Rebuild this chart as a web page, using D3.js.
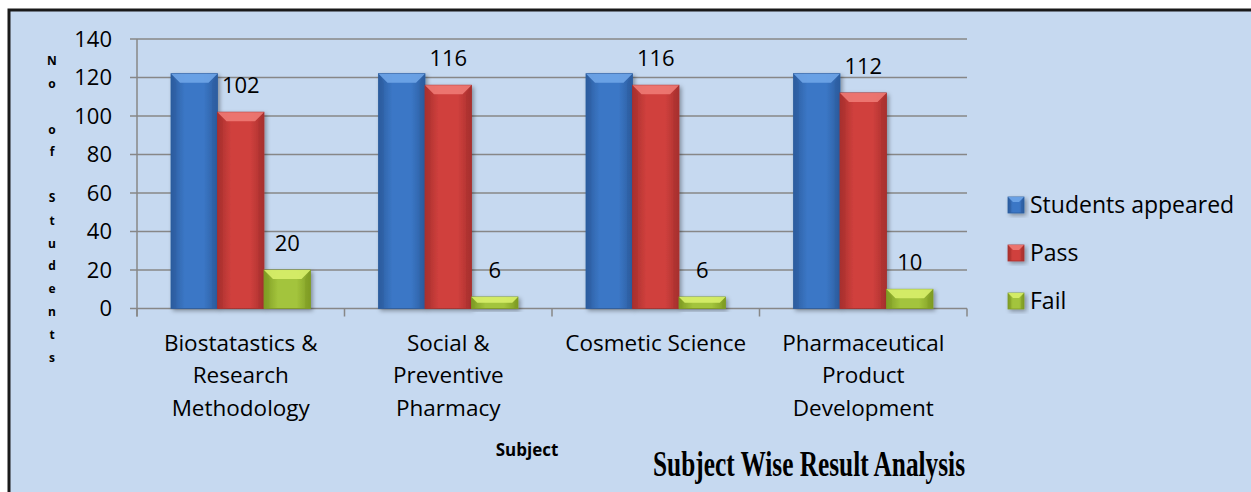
<!DOCTYPE html>
<html>
<head>
<meta charset="utf-8">
<script src="https://cdn.jsdelivr.net/npm/d3@7"></script>
<style>
  body { margin: 0; background: #fff; }
  svg { display: block; }
</style>
</head>
<body>
<div id="chart"></div>
<script>
document.addEventListener("DOMContentLoaded", function() {
    // chart data
    const subjects = [
        ["Biostatastics &", "Research", "Methodology"],
        ["Social &", "Preventive", "Pharmacy"],
        ["Cosmetic Science"],
        ["Pharmaceutical", "Product", "Development"]
    ];
    const seriesNames = ["Students appeared", "Pass", "Fail"];
    const appeared = [122, 122, 122, 122];
    const pass = [102, 116, 116, 112];
    const fail = [20, 6, 6, 10];
    const yTicks = [0, 20, 40, 60, 80, 100, 120, 140];
    const yTitle = ["N", "o", "", "o", "f", "", "S", "t", "u", "d", "e", "n", "t", "s"];

    const width = 1251;
    const height = 492;
    const font = "'Open Sans', sans-serif";

    const colors = {
        "Students appeared": { base: "#3b77c6", dark: "#2c5d9f", light: "#6fa5e8" },
        "Pass": { base: "#d0403d", dark: "#a8302e", light: "#ee7a74" },
        "Fail": { base: "#a3c43c", dark: "#7f9c24", light: "#d8f06a" }
    };

    const svg = d3.select("#chart").append("svg")
        .attr("width", width)
        .attr("height", height);

    const defs = svg.append("defs");
    Object.keys(colors).forEach((k, i) => {
        const c = colors[k];
        const g = defs.append("linearGradient")
            .attr("id", "grad" + i)
            .attr("x1", "0").attr("x2", "1").attr("y1", "0").attr("y2", "0");
        g.append("stop").attr("offset", "0%").attr("stop-color", c.dark);
        g.append("stop").attr("offset", "30%").attr("stop-color", c.base);
        g.append("stop").attr("offset", "70%").attr("stop-color", c.base);
        g.append("stop").attr("offset", "100%").attr("stop-color", c.dark);
    });
    const shadow = defs.append("filter").attr("id", "shadow")
        .attr("x", "-20%").attr("y", "-20%").attr("width", "150%").attr("height", "150%");
    shadow.append("feDropShadow")
        .attr("dx", 2).attr("dy", 2).attr("stdDeviation", 2)
        .attr("flood-color", "#000").attr("flood-opacity", 0.35);

    // background panel with border on top and left
    svg.append("rect")
        .attr("x", 9).attr("y", 10)
        .attr("width", width).attr("height", height)
        .attr("fill", "#c6d9f0")
        .attr("stroke", "#1a1a1a")
        .attr("stroke-width", 3);

    const y = d3.scaleLinear().domain([0, 140]).range([308.5, 39]);
    const x = d3.scaleBand().domain(d3.range(subjects.length)).range([137, 967]);
    const xSub = d3.scaleBand().domain(seriesNames).range([34, 173.5]);

    // gridlines
    svg.append("g")
        .selectAll("line")
        .data(yTicks)
        .join("line")
        .attr("x1", 130).attr("x2", 967)
        .attr("y1", d => y(d)).attr("y2", d => y(d))
        .attr("stroke", "#878787")
        .attr("stroke-width", 1.5);

    // y axis line
    svg.append("line")
        .attr("x1", 137).attr("x2", 137)
        .attr("y1", y(140)).attr("y2", y(0) + 8)
        .attr("stroke", "#878787").attr("stroke-width", 1.5);

    // x ticks
    svg.append("g")
        .selectAll("line")
        .data(d3.range(subjects.length + 1))
        .join("line")
        .attr("x1", d => 137 + d * x.bandwidth())
        .attr("x2", d => 137 + d * x.bandwidth())
        .attr("y1", y(0)).attr("y2", y(0) + 8)
        .attr("stroke", "#878787").attr("stroke-width", 1.5);

    // y tick labels
    svg.append("g")
        .selectAll("text")
        .data(yTicks)
        .join("text")
        .attr("x", 112)
        .attr("y", d => y(d))
        .attr("dy", "0.35em")
        .attr("text-anchor", "end")
        .attr("font-family", font)
        .attr("font-size", 22)
        .attr("fill", "#000")
        .text(d => d);

    // y title, one letter per line
    svg.append("g")
        .selectAll("text")
        .data(yTitle)
        .join("text")
        .attr("x", 52)
        .attr("y", (d, i) => 61 + i * 22.8)
        .attr("dy", "0.35em")
        .attr("text-anchor", "middle")
        .attr("font-family", font)
        .attr("font-weight", "bold")
        .attr("font-size", 12)
        .attr("fill", "#000")
        .text(d => d);

    const series = [
        { name: "Students appeared", values: appeared, label: false },
        { name: "Pass", values: pass, label: true },
        { name: "Fail", values: fail, label: true }
    ];

    function drawBar(g, bx, by, bw, bh, c, gi, bev) {
        const b = Math.min(bev, bh / 2);
        g.append("rect")
            .attr("x", bx).attr("y", by)
            .attr("width", bw).attr("height", bh)
            .attr("fill", "url(#grad" + gi + ")")
            .attr("stroke", c.dark).attr("stroke-width", 0.8)
            .attr("filter", "url(#shadow)");
        // top bevel
        g.append("path")
            .attr("d", `M${bx},${by} L${bx + bw},${by} L${bx + bw - b},${by + b} L${bx + b},${by + b} Z`)
            .attr("fill", c.light).attr("opacity", 0.9);
        // side bevels
        g.append("path")
            .attr("d", `M${bx},${by} L${bx + b * 0.6},${by + b} L${bx + b * 0.6},${by + bh} L${bx},${by + bh} Z`)
            .attr("fill", c.dark).attr("opacity", 0.35);
        g.append("path")
            .attr("d", `M${bx + bw},${by} L${bx + bw - b * 0.6},${by + b} L${bx + bw - b * 0.6},${by + bh} L${bx + bw},${by + bh} Z`)
            .attr("fill", c.dark).attr("opacity", 0.45);
    }

    const bars = svg.append("g");
    series.forEach((s, si) => {
        s.values.forEach((v, i) => {
            const bx = x(i) + xSub(s.name);
            const bw = xSub.bandwidth();
            drawBar(bars, bx, y(v), bw, y(0) - y(v), colors[s.name], si, 9);
        });
    });

    // data labels
    const labels = svg.append("g")
        .attr("font-family", font)
        .attr("font-size", 22)
        .attr("fill", "#000")
        .attr("text-anchor", "middle");
    series.filter(s => s.label).forEach(s => {
        s.values.forEach((v, i) => {
            labels.append("text")
                .attr("x", x(i) + xSub(s.name) + xSub.bandwidth() / 2)
                .attr("y", y(v) - 19)
                .text(v);
        });
    });

    // category labels
    const cat = svg.append("g")
        .attr("font-family", font)
        .attr("font-size", 22.5)
        .attr("fill", "#000")
        .attr("text-anchor", "middle");
    subjects.forEach((lines, i) => {
        lines.forEach((t, j) => {
            cat.append("text")
                .attr("x", x(i) + x.bandwidth() / 2)
                .attr("y", 343 + j * 32.5)
                .attr("dy", "0.35em")
                .text(t);
        });
    });

    // x title
    svg.append("text")
        .attr("x", 527).attr("y", 450)
        .attr("dy", "0.35em")
        .attr("text-anchor", "middle")
        .attr("font-family", font)
        .attr("font-weight", "bold")
        .attr("font-size", 17)
        .attr("fill", "#000")
        .text("Subject");

    // legend
    const legend = svg.append("g");
    seriesNames.forEach((n, i) => {
        const ly = 205 + i * 48;
        drawBar(legend, 1008, ly - 8, 16, 16, colors[n], i, 5);
        legend.append("text")
            .attr("x", 1030).attr("y", ly)
            .attr("dy", "0.35em")
            .attr("font-family", font)
            .attr("font-size", 23)
            .attr("fill", "#000")
            .text(n);
    });

    // chart caption
    svg.append("text")
        .attr("x", 653).attr("y", 476)
        .attr("font-family", "'Liberation Serif', 'Times New Roman', serif")
        .attr("font-weight", "bold")
        .attr("font-size", 36)
        .attr("textLength", 312)
        .attr("lengthAdjust", "spacingAndGlyphs")
        .attr("fill", "#000")
        .text("Subject Wise Result Analysis");
});
</script>
</body>
</html>
